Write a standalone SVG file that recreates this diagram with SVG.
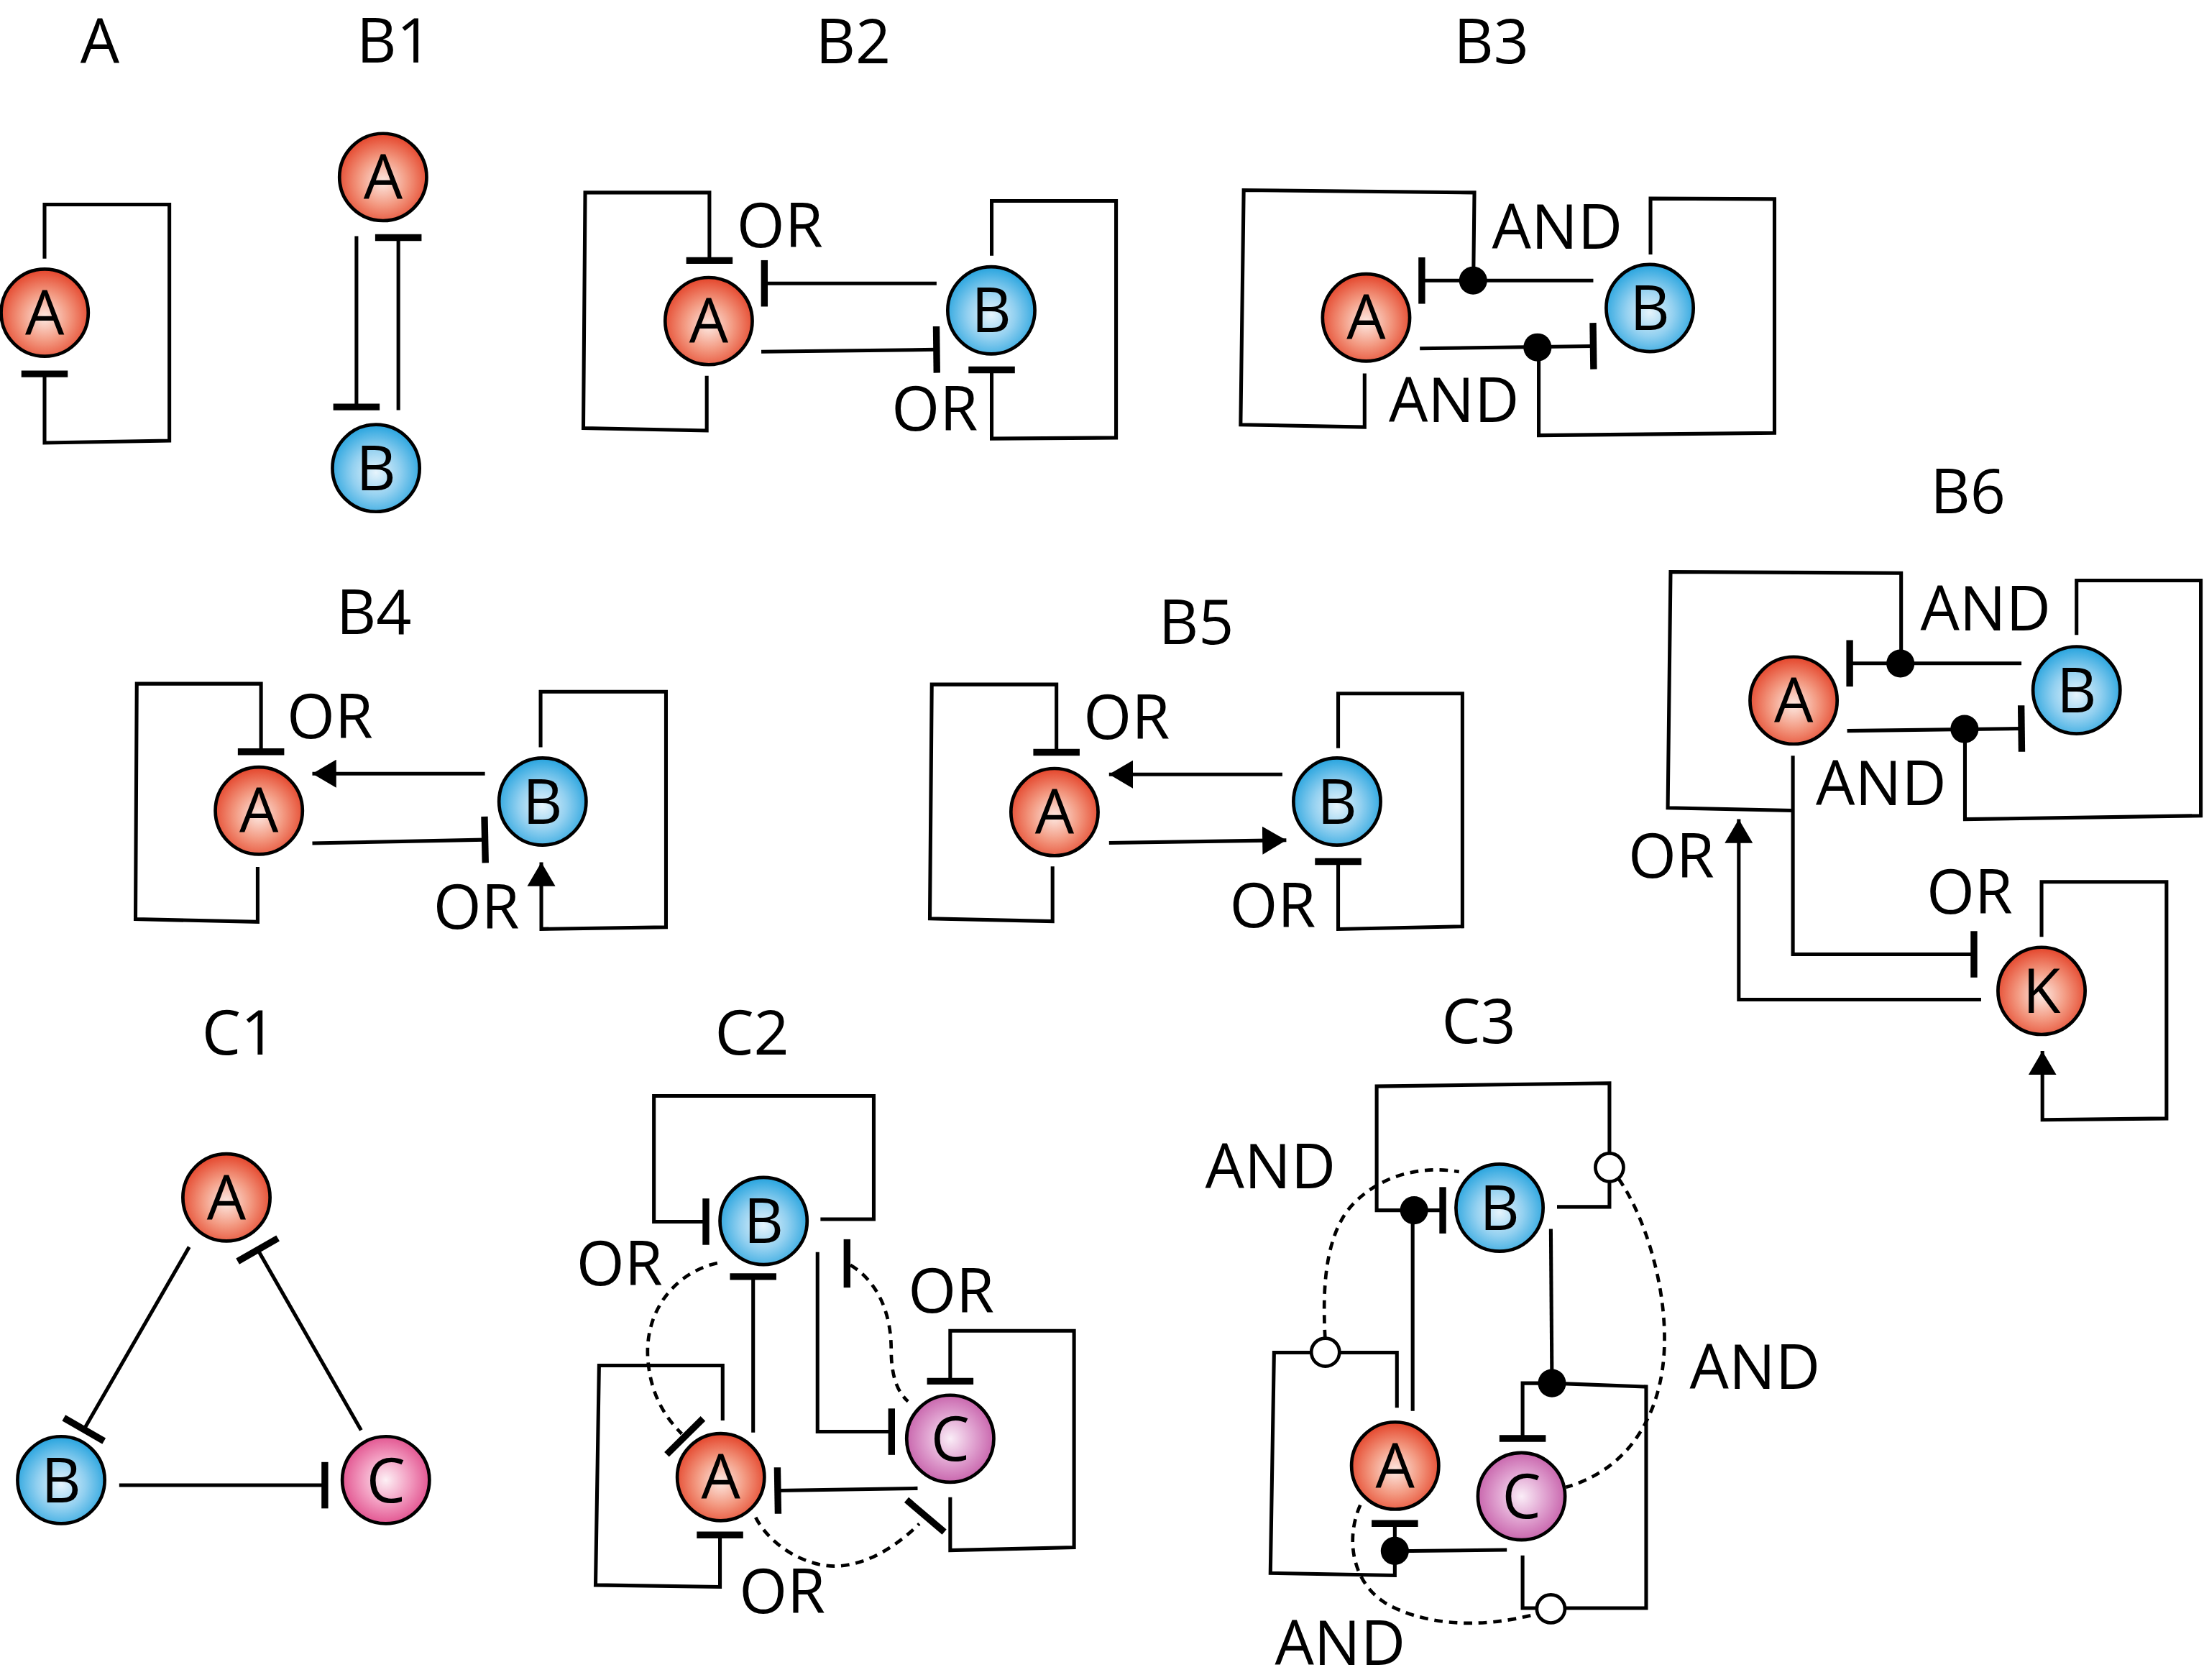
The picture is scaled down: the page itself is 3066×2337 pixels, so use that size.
<svg xmlns="http://www.w3.org/2000/svg" width="3066" height="2337" viewBox="0 0 3066 2337">
  <defs>
    <radialGradient id="gA" cx="50%" cy="55%" r="55%">
      <stop offset="0" stop-color="#fde9e2"/>
      <stop offset="0.5" stop-color="#f39a82"/>
      <stop offset="1" stop-color="#e4442a"/>
    </radialGradient>
    <radialGradient id="gB" cx="50%" cy="55%" r="55%">
      <stop offset="0" stop-color="#e6f4fc"/>
      <stop offset="0.5" stop-color="#92d0f0"/>
      <stop offset="1" stop-color="#25a3de"/>
    </radialGradient>
    <radialGradient id="gC1" cx="50%" cy="50%" r="55%">
      <stop offset="0" stop-color="#fdf0f5"/>
      <stop offset="0.5" stop-color="#f29cc0"/>
      <stop offset="1" stop-color="#df4787"/>
    </radialGradient>
    <radialGradient id="gC2" cx="50%" cy="50%" r="55%">
      <stop offset="0" stop-color="#faedf7"/>
      <stop offset="0.5" stop-color="#e0a2d0"/>
      <stop offset="1" stop-color="#c45aa6"/>
    </radialGradient>
    <marker id="tee" viewBox="-4 -18 8 36" refX="0" refY="0" markerWidth="8" markerHeight="36" markerUnits="userSpaceOnUse" orient="auto">
      <path d="M0,-16.5 V16.5" stroke="#000" stroke-width="4.8" fill="none"/>
    </marker>
    <marker id="arr" viewBox="0 0 17 20" refX="17" refY="10" markerWidth="17" markerHeight="20" markerUnits="userSpaceOnUse" orient="auto">
      <path d="M0,0 L17,10 L0,20 z" fill="#000"/>
    </marker>
  </defs>
  <style>
    .ln { fill: none; stroke: #000; stroke-width: 2.6; stroke-linejoin: miter; }
    .inh { marker-end: url(#tee); }
    .act { marker-end: url(#arr); }
    .dash { fill: none; stroke: #000; stroke-width: 2.4; stroke-dasharray: 6 4.5; }
    .bar { fill: none; stroke: #000; stroke-width: 4.8; }
    .dot { fill: #000; }
    .ring { fill: #fff; stroke: #000; stroke-width: 2.4; }
    .node circle { stroke: #000; stroke-width: 2.4; }
    text { font-family: "Open Sans", "Liberation Sans", sans-serif; font-size: 44px; fill: #000; text-anchor: middle; }
  </style>
  <rect width="3066" height="2337" fill="#fff"/>

  <g transform="scale(1.9554)">
    <!-- panel titles -->
    <g id="titles">
      <text x="71" y="45">A</text>
      <text x="280.5" y="44.5">B1</text>
      <text x="607" y="45">B2</text>
      <text x="1061" y="45">B3</text>
      <text x="266" y="451">B4</text>
      <text x="851" y="458">B5</text>
      <text x="1400" y="365">B6</text>
      <text x="170" y="750">C1</text>
      <text x="535" y="750">C2</text>
      <text x="1052" y="742">C3</text>
    </g>

    <!-- logic labels -->
    <g id="labels">
      <text x="554.8" y="176">OR</text>
      <text x="665" y="306.3">OR</text>
      <text x="1107.9" y="176.8">AND</text>
      <text x="1034.4" y="300.4">AND</text>
      <text x="234.7" y="525.4">OR</text>
      <text x="338.9" y="660.5">OR</text>
      <text x="801.5" y="525.8">OR</text>
      <text x="905.4" y="659.5">OR</text>
      <text x="1412.6" y="448.6">AND</text>
      <text x="1338.3" y="572.6">AND</text>
      <text x="1189" y="624.3">OR</text>
      <text x="1401.2" y="650">OR</text>
      <text x="440.7" y="914.2">OR</text>
      <text x="676.7" y="933.7">OR</text>
      <text x="556.5" y="1147.7">OR</text>
      <text x="903.8" y="845.5">AND</text>
      <text x="1248.5" y="988">AND</text>
      <text x="953.4" y="1184.5">AND</text>
    </g>

    <g id="connectors">
      <!-- A: self-inhibition -->
      <path class="ln inh" d="M31.7,184 V145.5 H120.5 V313.5 L31.7,315 V266"/>

      <!-- B1: mutual inhibition -->
      <path class="ln inh" d="M253.6,168 V289.5"/>
      <path class="ln inh" d="M283.4,291.8 V169"/>

      <!-- B2 -->
      <path class="ln inh" d="M502.8,267.4 V306.3 L415,304.6 L416.3,137 H504.7 V185.3"/>
      <path class="ln inh" d="M666.3,201.6 H543.8"/>
      <path class="ln inh" d="M541.6,250.2 L666.3,248.7"/>
      <path class="ln inh" d="M705.5,181.9 V142.9 H794 V311.4 L705.5,312 V263.1"/>

      <!-- B3 -->
      <path class="ln" d="M970.8,265.7 V303.8 L882.6,302.1 L884.8,135.3 L1048.9,137 L1048.2,199.6"/>
      <path class="ln inh" d="M1133.5,199.6 H1011.5"/>
      <path class="ln inh" d="M1010.1,247.9 L1133.5,246.2"/>
      <path class="ln" d="M1174.2,181 V141.2 L1262.4,141.6 V308 L1094.7,309.7 V247"/>
      <circle class="dot" cx="1048" cy="199.6" r="10"/>
      <circle class="dot" cx="1093.8" cy="247.1" r="10"/>

      <!-- B4 -->
      <path class="ln inh" d="M183.3,616.8 V655.8 L96.4,653.9 L97.3,486.4 H185.7 V534.8"/>
      <path class="ln act" d="M345,550.4 H222.2"/>
      <path class="ln inh" d="M222.2,599.9 L345,597.4"/>
      <path class="ln act" d="M384.6,531.6 V492.1 H473.8 V659.6 L385.1,660.9 V613.4"/>

      <!-- B5 -->
      <path class="ln inh" d="M748.8,616.4 V655.4 L661.5,653.5 L662.9,486.9 H751.6 V535.2"/>
      <path class="ln act" d="M912.3,550.9 H789"/>
      <path class="ln act" d="M789,599.6 L915.1,597.7"/>
      <path class="ln inh" d="M952,532.2 V493.4 H1040.4 V659.1 L952,661 V612.9"/>

      <!-- B6 -->
      <path class="ln inh" d="M1275.5,537.6 V678.9 H1404.3"/>
      <path class="ln" d="M1275.5,576.6 L1186.5,574.7 L1188.5,406.8 L1352.5,407.7 V472"/>
      <path class="ln inh" d="M1438.1,471.9 H1315.9"/>
      <path class="ln inh" d="M1314.1,519.9 L1438.1,518.3"/>
      <path class="ln" d="M1397.9,518.5 V582.8 L1565.7,580.3 V413 H1477.3 V451.7"/>
      <path class="ln act" d="M1409.4,711.1 H1237 V582.8"/>
      <path class="ln act" d="M1452.4,666.5 V627.4 H1541.3 V795.7 L1453,796.6 V747.7"/>
      <circle class="dot" cx="1352" cy="472" r="10"/>
      <circle class="dot" cx="1397.6" cy="518.6" r="10"/>

      <!-- C1: repressilator -->
      <path class="ln inh" d="M134.6,887.1 L59.7,1016.9"/>
      <path class="ln inh" d="M256.9,1017.4 L183.4,889.1"/>
      <path class="ln inh" d="M84.8,1056.6 H231.1"/>

      <!-- C2 -->
      <path class="ln inh" d="M583.7,867.3 H621.6 V779.6 H465.2 V869.1 H502.2"/>
      <path class="ln inh" d="M535.8,1019.1 V908.2"/>
      <path class="ln inh" d="M514.1,1010.5 V971.4 H426.2 L423.7,1127.6 L512.2,1128.9 V1092"/>
      <path class="ln inh" d="M581.6,890.7 V1018.5 H634.3"/>
      <path class="ln inh" d="M676,1065.1 V1102.9 L764.1,1100.8 V946.7 H676 V982.6"/>
      <path class="ln inh" d="M652.8,1058.8 L553.3,1060.4"/>
      <path class="dash" d="M510.3,898.5 C478,906 458,935 461,968 C463,992 473,1008 485,1020"/>
      <path class="dash" d="M605,900 C625,912 634,935 634,960 C634,978 638,990 646,997"/>
      <path class="dash" d="M537.6,1079.5 C548,1100 575,1116 598,1114 C620,1112 640,1098 654,1084"/>
      <line class="bar" x1="474.3" y1="1034.7" x2="500.1" y2="1009.2"/>
      <line class="bar" x1="602.6" y1="881.6" x2="602.6" y2="916"/>
      <line class="bar" x1="644.9" y1="1067" x2="671.8" y2="1089.9"/>

      <!-- C3 -->
      <path class="ln" d="M1107.7,858.6 H1145 V770.6 L979.4,772.8 V861 H1007.6"/>
      <path class="ln inh" d="M1007.6,861 H1026.4"/>
      <path class="ln" d="M1005,1003.7 V861"/>
      <path class="ln inh" d="M993.8,1001.5 V962.2 H906.4 L903.8,1119.1 L992.3,1120.7 V1083.8"/>
      <path class="ln" d="M1072,1102.6 L992.3,1103.5"/>
      <path class="ln inh" d="M1083.2,1106.6 V1144 H1171.1 V986.5 L1104.1,984 H1083.2 V1023.3"/>
      <path class="ln" d="M1103.3,874.2 L1104.1,984"/>
      <path class="dash" d="M942.7,952 C941,920 942,885 958,862 C975,840 1005,828 1038,833.6"/>
      <path class="dash" d="M967.7,1070.7 C957,1095 962,1125 985,1140 C1010,1155 1050,1160 1093.5,1148"/>
      <path class="dash" d="M1151.5,838.5 C1170,865 1186,915 1184,960 C1182,1005 1160,1045 1114,1058"/>
      <circle class="dot" cx="1006" cy="861" r="10"/>
      <circle class="dot" cx="992.3" cy="1103.3" r="10"/>
      <circle class="dot" cx="1104.1" cy="984" r="10"/>
      <circle class="ring" cx="1145" cy="830.5" r="10"/>
      <circle class="ring" cx="942.9" cy="962" r="10"/>
      <circle class="ring" cx="1103.3" cy="1144.5" r="10"/>
    </g>

    <!-- nodes -->
    <g id="a-A" class="node"><circle cx="31.8" cy="222.5" r="31" fill="url(#gA)"/><text x="31.8" y="238.2">A</text></g>

    <g id="b1-A" class="node"><circle cx="272.5" cy="126" r="31" fill="url(#gA)"/><text x="272.5" y="141.7">A</text></g>
    <g id="b1-B" class="node"><circle cx="267.5" cy="333" r="31" fill="url(#gB)"/><text x="267.5" y="348.7">B</text></g>

    <g id="b2-A" class="node"><circle cx="504.2" cy="228.4" r="31" fill="url(#gA)"/><text x="504.2" y="244.1">A</text></g>
    <g id="b2-B" class="node"><circle cx="705.2" cy="220.8" r="31" fill="url(#gB)"/><text x="705.2" y="236.5">B</text></g>

    <g id="b3-A" class="node"><circle cx="971.9" cy="225.9" r="31" fill="url(#gA)"/><text x="971.9" y="241.6">A</text></g>
    <g id="b3-B" class="node"><circle cx="1173.7" cy="219.1" r="31" fill="url(#gB)"/><text x="1173.7" y="234.8">B</text></g>

    <g id="b4-A" class="node"><circle cx="184.2" cy="576.7" r="31" fill="url(#gA)"/><text x="184.2" y="592.4">A</text></g>
    <g id="b4-B" class="node"><circle cx="386" cy="570.2" r="31" fill="url(#gB)"/><text x="386" y="585.9">B</text></g>

    <g id="b5-A" class="node"><circle cx="750.2" cy="577.7" r="31" fill="url(#gA)"/><text x="750.2" y="593.4">A</text></g>
    <g id="b5-B" class="node"><circle cx="951.2" cy="570.2" r="31" fill="url(#gB)"/><text x="951.2" y="585.9">B</text></g>

    <g id="b6-A" class="node"><circle cx="1276" cy="498.3" r="31" fill="url(#gA)"/><text x="1276" y="514">A</text></g>
    <g id="b6-B" class="node"><circle cx="1477.3" cy="491" r="31" fill="url(#gB)"/><text x="1477.3" y="506.7">B</text></g>
    <g id="b6-K" class="node"><circle cx="1452.4" cy="704.9" r="31" fill="url(#gA)"/><text x="1452.4" y="720.6">K</text></g>

    <g id="c1-A" class="node"><circle cx="161.1" cy="851.9" r="31" fill="url(#gA)"/><text x="161.1" y="867.6">A</text></g>
    <g id="c1-B" class="node"><circle cx="43.5" cy="1052.9" r="31" fill="url(#gB)"/><text x="43.5" y="1068.6">B</text></g>
    <g id="c1-C" class="node"><circle cx="274.5" cy="1052.9" r="31" fill="url(#gC1)"/><text x="274.5" y="1068.6">C</text></g>

    <g id="c2-B" class="node"><circle cx="543.2" cy="868.6" r="31" fill="url(#gB)"/><text x="543.2" y="884.3">B</text></g>
    <g id="c2-A" class="node"><circle cx="512.8" cy="1050.8" r="31" fill="url(#gA)"/><text x="512.8" y="1066.5">A</text></g>
    <g id="c2-C" class="node"><circle cx="676" cy="1023.5" r="31" fill="url(#gC2)"/><text x="676" y="1039.2">C</text></g>

    <g id="c3-B" class="node"><circle cx="1066.8" cy="859.2" r="31" fill="url(#gB)"/><text x="1066.8" y="874.9">B</text></g>
    <g id="c3-A" class="node"><circle cx="992.5" cy="1042.7" r="31" fill="url(#gA)"/><text x="992.5" y="1058.4">A</text></g>
    <g id="c3-C" class="node"><circle cx="1082.4" cy="1064.5" r="31" fill="url(#gC2)"/><text x="1082.4" y="1080.2">C</text></g>
  </g>
</svg>
